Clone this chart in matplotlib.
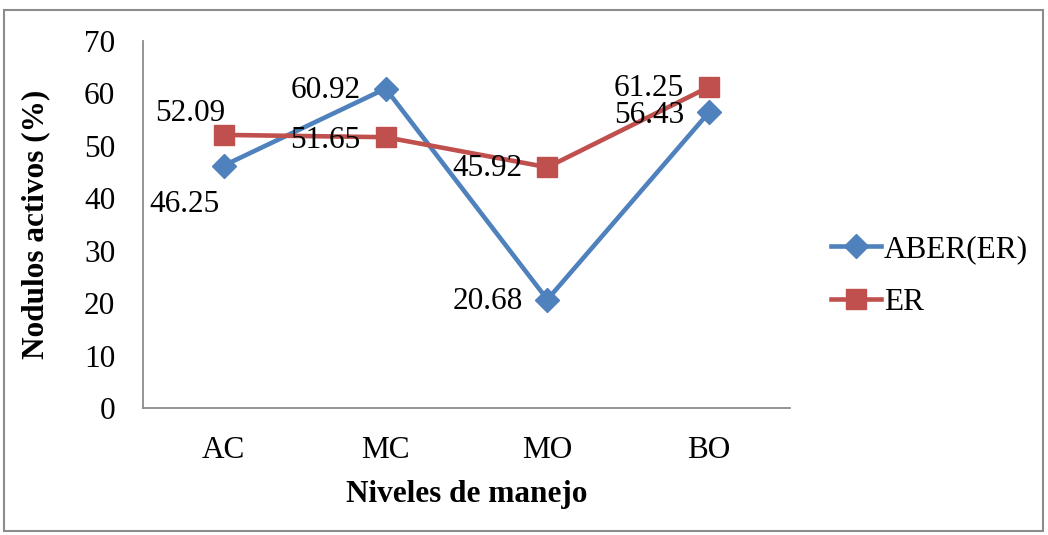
import matplotlib
matplotlib.use("Agg")
import matplotlib.pyplot as plt
from matplotlib.patches import Rectangle

categories = ["AC", "MC", "MO", "BO"]
aber_er = [46.25, 60.92, 20.68, 56.43]
er = [52.09, 51.65, 45.92, 61.25]
yticks = [0, 10, 20, 30, 40, 50, 60, 70]

plt.rcParams['font.family'] = ['Liberation Serif', 'DejaVu Serif']

W, H = 1048, 535
fig = plt.figure(figsize=(W / 100, H / 100), dpi=100)
ax = fig.add_axes([143 / W, 1 - 408 / H, (790 - 143) / W, (408 - 41) / H])

blue = '#4F81BD'
red = '#C0504D'
x = list(range(len(categories)))
ax.plot(x, aber_er, color=blue, lw=3.3, marker='D', markersize=12.5, label='ABER(ER)', zorder=3)
ax.plot(x, er, color=red, lw=3.3, marker='s', markersize=14, label='ER', zorder=3)

px = 0.72  # points per pixel
fs = 22.5
# label offsets in pixels (dx, dy) with dy positive up
aber_off = [(-39, -39, 'center'), (-25, -2, 'right'), (-25, -2, 'right'), (-25, -3, 'right')]
er_off = [(-34, 21, 'center'), (-25, -3, 'right'), (-25, -1, 'right'), (-25, -2, 'right')]
for i, v in enumerate(aber_er):
    dx, dy, ha = aber_off[i]
    ax.annotate(f"{v:.2f}", (i, v), xytext=(dx * px, dy * px), textcoords='offset points',
                ha=ha, va='center', fontsize=fs, zorder=5)
for i, v in enumerate(er):
    dx, dy, ha = er_off[i]
    ax.annotate(f"{v:.2f}", (i, v), xytext=(dx * px, dy * px), textcoords='offset points',
                ha=ha, va='center', fontsize=fs, zorder=5)

ax.set_xlim(-0.5, 3.5)
ax.set_ylim(0, 70)
ax.set_xticks(x)
ax.set_xticklabels(categories)
ax.set_yticks(yticks)
ax.tick_params(axis='both', length=0, labelsize=fs)
ax.tick_params(axis='y', pad=20)
ax.tick_params(axis='x', pad=20)
for s in ['top', 'right']:
    ax.spines[s].set_visible(False)
for s in ['left', 'bottom']:
    ax.spines[s].set_color('#8C8C8C')
    ax.spines[s].set_linewidth(1.3)

ax.set_xlabel("Niveles de manejo", fontsize=fs, fontweight='bold', labelpad=11)
ax.set_ylabel("Nodulos activos (%)", fontsize=fs, fontweight='bold', labelpad=24)

leg = ax.legend(loc='center left', bbox_to_anchor=(831 / W, 1 - 276 / H), bbox_transform=fig.transFigure,
                frameon=False, fontsize=fs, handlelength=1.6, handletextpad=0.1, labelspacing=0.75,
                borderaxespad=0, borderpad=0)

fig.patches.append(Rectangle((4 / W, 1 - 531 / H), (1043 - 4) / W, (531 - 10) / H,
                             transform=fig.transFigure, fill=False, edgecolor='#8C8C8C', lw=1.5))

fig.savefig("out.png", dpi=100)
